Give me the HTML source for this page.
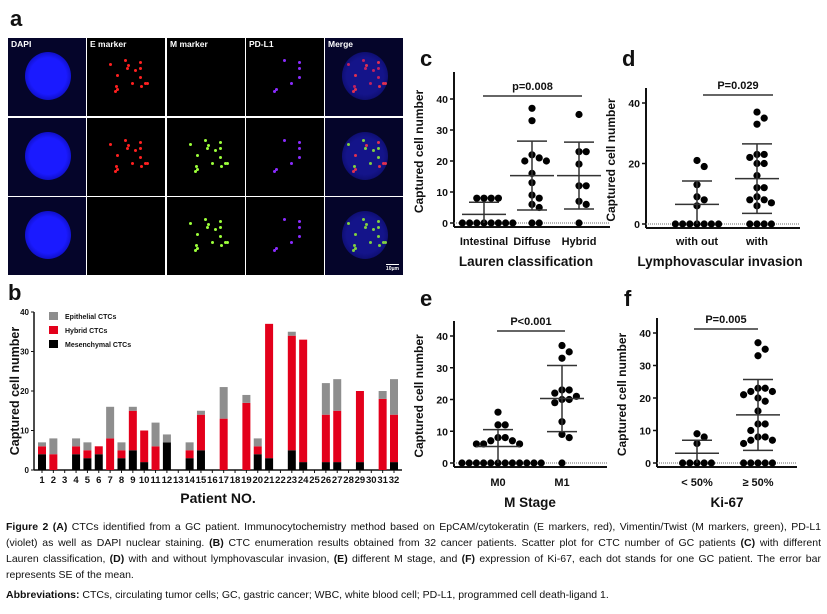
<!DOCTYPE html>
<html><head><meta charset="utf-8">
<style>
body{margin:0;background:#fff;width:827px;height:614px;overflow:hidden;position:relative;font-family:"Liberation Sans",sans-serif}
.cell{position:absolute;background:#000;overflow:hidden}
.lab{position:absolute;left:3px;top:1px;color:#fff;font:bold 8.5px "Liberation Sans",sans-serif}
.blob{position:absolute;border-radius:50%}
.dot{position:absolute;border-radius:50%;width:3px;height:3px}
#cap{position:absolute;left:6px;top:519px;width:815px;font:10.5px "Liberation Sans Narrow","Liberation Sans",sans-serif;color:#111;line-height:16px}
#cap div{text-align:justify;text-align-last:justify;white-space:nowrap;overflow:hidden}
#cap div.l{text-align-last:left}
</style></head><body>
<div id="micro"></div>
<svg id="chart" width="827" height="514" style="position:absolute;left:0;top:0"></svg>
<div id="cap">
<div><b>Figure 2 (A)</b> CTCs identified from a GC patient. Immunocytochemistry method based on EpCAM/cytokeratin (E markers, red), Vimentin/Twist (M markers, green), PD-L1</div>
<div>(violet) as well as DAPI nuclear staining. <b>(B)</b> CTC enumeration results obtained from 32 cancer patients. Scatter plot for CTC number of GC patients <b>(C)</b> with different</div>
<div>Lauren classification, <b>(D)</b> with and without lymphovascular invasion, <b>(E)</b> different M stage, and <b>(F)</b> expression of Ki-67, each dot stands for one GC patient. The error bar</div>
<div class="l">represents SE of the mean.</div>
<div class="l" style="margin-top:4px"><b>Abbreviations:</b> CTCs, circulating tumor cells; GC, gastric cancer; WBC, white blood cell; PD-L1, programmed cell death-ligand 1.</div>
</div>
<script>
// ---------- bar chart data (panel b) ----------
const patients = [1,2,3,4,5,6,7,8,9,10,11,12,13,14,15,16,17,18,19,20,21,22,23,24,25,26,27,28,29,30,31,32];
const mesenchymal = [4,0,0,4,3,4,0,3,5,2,0,7,0,3,5,0,0,0,0,4,3,0,5,2,0,2,2,0,2,0,0,2];
const hybrid      = [2,4,0,2,2,2,8,2,10,8,6,0,0,2,9,0,13,0,17,2,34,0,29,31,0,12,13,0,18,0,18,12];
const epithelial  = [1,4,0,2,2,0,8,2,1,0,6,2,0,2,1,0,8,0,2,2,0,0,1,0,0,8,8,0,0,0,2,9];
const barTicks = [0,10,20,30,40];

// ---------- scatter data ----------
const cCats = ["Intestinal","Diffuse","Hybrid"];
const cIntestinal = [0,0,0,0,0,0,0,0,8,8,8,8];
const cDiffuse = [37,33,22,21,20,20,16,13,9,8,6,5,0,0];
const cHybrid = [35,23,23,19,12,12,7,6,0];
const cMean = [2.8,15.3,15.3];
const cSD = [3.9,11.1,10.8];

const dCats = ["with out","with"];
const dWithout = [21,19,13,9,8,6,0,0,0,0,0,0,0];
const dWith = [37,35,33,23,23,22,20,20,16,12,12,9,8,8,7,6,0,0,0,0];
const dMean = [6.5,15];
const dSD = [7.7,11.5];

const eCats = ["M0","M1"];
const eM0 = [16,12,12,8,8,7,7,6,6,6,0,0,0,0,0,0,0,0,0,0,0,0];
const eM1 = [37,35,33,23,23,22,21,20,20,19,13,9,8,0];
const eMean = [5.2,20.3];
const eSD = [5.3,10.4];

const fCats = ["< 50%","\u2265 50%"];
const fLow = [9,8,6,0,0,0,0,0];
const fHigh = [37,35,33,23,23,22,22,21,20,19,16,12,12,10,8,8,7,7,6,0,0,0,0,0];
const fMean = [3,14.8];
const fSD = [4,10.9];

const NS="http://www.w3.org/2000/svg";
const svg=document.getElementById('chart');
function el(tag,attrs,parent){const e=document.createElementNS(NS,tag);for(const k in attrs)e.setAttribute(k,attrs[k]);(parent||svg).appendChild(e);return e;}
function txt(x,y,s,size,extra,parent){const t=el('text',Object.assign({x:x,y:y,'font-size':size,'font-weight':'bold','font-family':'Liberation Sans, sans-serif',fill:'#111'},extra||{}),parent);t.textContent=s;return t;}

// panel letters
[["a",10,26],["b",8,300],["c",420,66],["d",622,66],["e",420,306],["f",624,306]].forEach(p=>{
  const t=txt(p[1],p[2],p[0],22);
  
  
});

// ---------- microscopy panel ----------
(function(){
  const m=document.getElementById('micro');
  const cols=[8,87,167,246,325], rows=[38,118,197], w=78, h=78;
  const names=["DAPI","E marker","M marker","PD-L1","Merge"];
  const seed=[0.13,0.71,0.42,0.88,0.27,0.56,0.05,0.93,0.34,0.62,0.18,0.79,0.47,0.02,0.66,0.39,0.84,0.22,0.51,0.97,0.11,0.74,0.29,0.58,0.45,0.08,0.91,0.36,0.69,0.15];
  for(let r=0;r<3;r++)for(let c=0;c<5;c++){
    const d=document.createElement('div');d.className='cell';
    d.style.left=cols[c]+'px';d.style.top=rows[r]+'px';d.style.width=w+'px';d.style.height=h+'px';
    
    
    if(c==0||c==4){d.style.background='#05052a';
      const b=document.createElement('div');b.className='blob';
      b.style.cssText='left:17px;top:14px;width:46px;height:48px;background:radial-gradient(circle,'+(c==0?'#1a1aff 55%,#0808a0 85%,#05052a 100%':'#14148a 55%,#0a0a60 85%,#05052a 100%')+')';
      d.appendChild(b);}
    const has={1:r<2,2:r>0,3:true,4:true}[c];
    if(c>0&&has){
      const col=c==1?'#ff2020':c==2?'#9cff3a':c==3?'#8a2bff':null;
      const n=c==3?7:16;
      for(let i=0;i<n;i++){
        const s=document.createElement('div');s.className='dot';
        const a=seed[i%30]*6.28+i, rr=6+seed[(i*7)%30]*16;
        s.style.left=(38+Math.cos(a)*rr)+'px';s.style.top=(38+Math.sin(a)*rr)+'px';
        let cc=col; if(c==4){cc=(i%2&&r<2)?'#e03050':(r>0?'#80d040':'#c02060');}
        s.style.background=cc; m.appendChild&&d.appendChild(s);}
    }
    if(r==0){const l=document.createElement('div');l.className='lab';l.textContent=names[c];
      
      d.appendChild(l);}
    if(r==2&&c==4){const sb=document.createElement('div');sb.style.cssText='position:absolute;right:4px;bottom:3px;color:#fff;font:bold 5px Liberation Sans,sans-serif;border-top:1px solid #fff;padding-top:1px';sb.textContent='10\u03bcm';
      
      d.appendChild(sb);}
    m.appendChild(d);
  }
})();

// ---------- bar chart ----------
(function(){
  const g=el('g',{});
  
  
  const x0=34,y0=470,yTop=312,maxV=40;
  const ys=v=>y0-(v/maxV)*(y0-yTop);
  const xs=i=>42+i*(394-42)/(patients.length-1);
  el('line',{x1:x0,y1:yTop,x2:x0,y2:y0,stroke:'#111','stroke-width':1.5},g);
  el('line',{x1:x0,y1:y0,x2:402,y2:y0,stroke:'#111','stroke-width':1.5},g);
  barTicks.forEach(t=>{el('line',{x1:x0-3,y1:ys(t),x2:x0,y2:ys(t),stroke:'#111'},g);txt(x0-5,ys(t)+3,String(t),8,{'text-anchor':'end'},g);});
  patients.forEach((p,i)=>{
    const x=xs(i);
    el('line',{x1:x,y1:y0,x2:x,y2:y0+3,stroke:'#111'},g);
    const lbl=txt(x,y0+13,String(p),9.5,{'text-anchor':'middle'},g);
    let base=0;
    [[mesenchymal,'#000','mesenchymal'],[hybrid,'#e3001b','hybrid'],[epithelial,'#8e8e8e','epithelial']].forEach(s=>{
      const v=s[0][i]; if(v<=0)return;
      const r=el('rect',{x:x-4,y:ys(base+v),width:8,height:ys(base)-ys(base+v),fill:s[1]},g);
      
      
      base+=v;});
  });
  const yt=txt(0,0,'Captured cell number',12.5,{'text-anchor':'middle',transform:'translate(19,391) rotate(-90)'},g);
  
  
  const xt=txt(218,503,'Patient NO.',14,{'text-anchor':'middle'},g);
  
  
  [['Epithelial CTCs','#8e8e8e'],['Hybrid CTCs','#e3001b'],['Mesenchymal CTCs','#000']].forEach((l,i)=>{
    const y=316+i*14;
    const lg=el('g',{},g);
    
    
    el('rect',{x:49,y:y-4,width:9,height:8,fill:l[1]},lg);
    txt(65,y+3,l[0],7,{},lg);
  });
})();

// ---------- scatter plots ----------
function scatter(name,groups,cats,means,sds,ticks,L){
  const g=el('g',{});
  
  
  const ys=v=>L.y0-(v/40)*(L.y0-L.y40);
  el('line',{x1:L.ax,y1:L.axTop,x2:L.ax,y2:L.y0+4,stroke:'#111','stroke-width':2},g);
  el('line',{x1:L.ax,y1:L.y0+4,x2:L.xEnd,y2:L.y0+4,stroke:'#111','stroke-width':2},g);
  el('line',{x1:L.ax,y1:L.y0,x2:L.xEnd,y2:L.y0,stroke:'#888','stroke-width':1.2,'stroke-dasharray':'1,1'},g);
  ticks.forEach(t=>{el('line',{x1:L.ax-4,y1:ys(t),x2:L.ax,y2:ys(t),stroke:'#111','stroke-width':1.5},g);txt(L.ax-6,ys(t)+4,String(t),10.5,{'text-anchor':'end'},g);});
  groups.forEach((vals,gi)=>{
    const cx=L.gx[gi], placed=[];
    const sorted=vals.slice().sort((a,b)=>b-a);
    sorted.forEach(v=>{
      const y=ys(v); let k=0,x=cx;
      while(true){
        const off=(k%2?1:-1)*Math.ceil(k/2)*7.2; x=cx+(k==0?0:off);
        if(!placed.some(p=>Math.hypot(p[0]-x,p[1]-y)<7))break; k++;
      }
      placed.push([x,y]);
      const c=el('circle',{cx:x,cy:y,r:3.6,fill:'#000'},g);
      
      
    });
    const m=means[gi],hi=m+sds[gi],lo=Math.max(0,m-sds[gi]);
    const eb=el('g',{},g);
    
    
    el('line',{x1:cx-22,y1:ys(m),x2:cx+22,y2:ys(m),stroke:'#333','stroke-width':1.5},eb);
    el('line',{x1:cx,y1:ys(hi),x2:cx,y2:ys(lo),stroke:'#333','stroke-width':1.5},eb);
    el('line',{x1:cx-15,y1:ys(hi),x2:cx+15,y2:ys(hi),stroke:'#333','stroke-width':1.5},eb);
    if(lo>0)el('line',{x1:cx-15,y1:ys(lo),x2:cx+15,y2:ys(lo),stroke:'#333','stroke-width':1.5},eb);
    txt(cx,L.catY,cats[gi],11,{'text-anchor':'middle'},g);
  });
  el('line',{x1:L.sig[0],y1:L.sig[2],x2:L.sig[1],y2:L.sig[2],stroke:'#333','stroke-width':1.5},g);
  txt((L.sig[0]+L.sig[1])/2,L.sig[2]-6,L.p,11,{'text-anchor':'middle'},g);
  txt(L.titleX,L.catY+21,L.title,13.5,{'text-anchor':'middle'},g);
  txt(0,0,'Captured cell number',12,{'text-anchor':'middle',transform:'translate('+(L.ax-31)+','+((L.y0+L.axTop)/2+4)+') rotate(-90)'},g);
}
scatter('scatter-c',[cIntestinal,cDiffuse,cHybrid],cCats,cMean,cSD,[0,10,20,30,40],
 {ax:454,axTop:72,y0:223,y40:99,xEnd:610,gx:[484,532,579],catY:245,sig:[483,582,96],p:'p=0.008',title:'Lauren classification',titleX:526});
scatter('scatter-d',[dWithout,dWith],dCats,dMean,dSD,[0,20,40],
 {ax:646,axTop:88,y0:224,y40:103,xEnd:800,gx:[697,757],catY:245,sig:[703,773,95],p:'P=0.029',title:'Lymphovascular invasion',titleX:720});
scatter('scatter-e',[eM0,eM1],eCats,eMean,eSD,[0,10,20,30,40],
 {ax:454,axTop:321,y0:463,y40:336,xEnd:607,gx:[498,562],catY:486,sig:[497,565,331],p:'P<0.001',title:'M Stage',titleX:530});
scatter('scatter-f',[fLow,fHigh],fCats,fMean,fSD,[0,10,20,30,40],
 {ax:657,axTop:318,y0:463,y40:333,xEnd:797,gx:[697,758],catY:486,sig:[694,758,329],p:'P=0.005',title:'Ki-67',titleX:727});
</script>
</body></html>
